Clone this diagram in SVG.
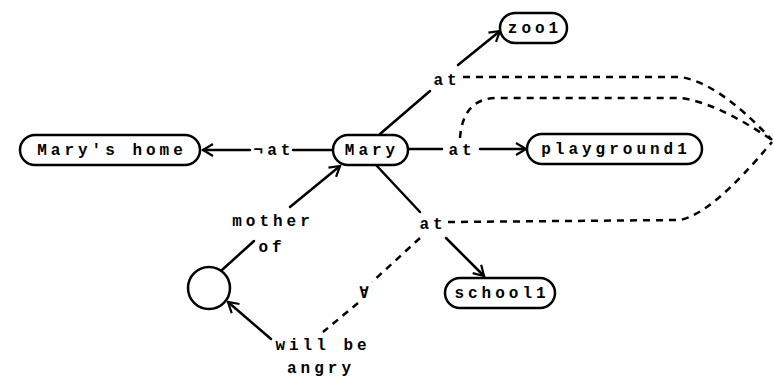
<svg xmlns="http://www.w3.org/2000/svg" width="773" height="378" viewBox="0 0 773 378">
  <style>
    .node rect, .node circle { fill: #fff; stroke: #000; stroke-width: 2.5; }
    text { font-family: "Liberation Mono", "DejaVu Sans Mono", monospace; font-weight: bold; font-size: 16px; letter-spacing: 4px; fill: #000; text-anchor: middle; }
    .edge { fill: none; stroke: #000; stroke-width: 2.5; stroke-linecap: round; }
    .dash { fill: none; stroke: #000; stroke-width: 2.5; stroke-dasharray: 7 6; }
  </style>
  <defs>
    <marker id="arrow" markerUnits="userSpaceOnUse" markerWidth="16" markerHeight="16" refX="12" refY="8" orient="auto">
      <path d="M2,2 L12,8 L2,14" fill="none" stroke="#000" stroke-width="2.2"/>
    </marker>
  </defs>

  <g id="connectors">
    <!-- Mary ¬at Mary's home -->
    <line class="edge" x1="250" y1="150" x2="203" y2="150" marker-end="url(#arrow)"/>
    <line class="edge" x1="293" y1="150" x2="333" y2="150"/>
    <text x="274" y="155">¬at</text>

    <!-- Mary at zoo1 -->
    <line class="edge" x1="380" y1="134" x2="430" y2="91"/>
    <line class="edge" x1="458" y1="65" x2="500" y2="31" marker-end="url(#arrow)"/>
    <text x="447" y="85">at</text>

    <!-- Mary at playground1 -->
    <line class="edge" x1="408" y1="149" x2="442" y2="149"/>
    <line class="edge" x1="480" y1="149" x2="526" y2="149" marker-end="url(#arrow)"/>
    <text x="462" y="155">at</text>

    <!-- Mary at school1 -->
    <line class="edge" x1="376" y1="165" x2="420" y2="212"/>
    <line class="edge" x1="446" y1="238" x2="484" y2="276" marker-end="url(#arrow)"/>
    <text x="433" y="229">at</text>

    <!-- dashed links joining the three "at" relations -->
    <path class="dash" d="M463,77 L680,77 Q718,82 772,140"/>
    <path class="dash" d="M460,138 Q463,98 497,98 L680,98 Q716,102 772,140"/>
    <path class="dash" d="M448,222 L680,220 Q712,214 772,142"/>

    <!-- ∀ over the school "at" -->
    <line class="dash" x1="420" y1="238" x2="372" y2="282"/>
    <line class="dash" x1="358" y1="303" x2="323" y2="332"/>
    <text x="366" y="298">∀</text>

    <!-- mother of -->
    <line class="edge" x1="290" y1="207" x2="340" y2="166" marker-end="url(#arrow)"/>
    <line class="edge" x1="222" y1="270" x2="254" y2="241"/>
    <text x="273" y="226">mother</text>
    <text x="272" y="252">of</text>

    <!-- will be angry -->
    <line class="edge" x1="271" y1="339" x2="228" y2="302" marker-end="url(#arrow)"/>
    <text x="323" y="350">will be</text>
    <text x="321" y="373">angry</text>
  </g>

  <g id="marys-home" class="node">
    <rect x="20" y="135" width="180" height="30" rx="15"/>
    <text x="112" y="155">Mary's home</text>
  </g>
  <g id="mary" class="node">
    <rect x="333" y="135" width="75" height="30" rx="15"/>
    <text x="372" y="155">Mary</text>
  </g>
  <g id="zoo1" class="node">
    <rect x="500" y="13" width="67" height="30" rx="15"/>
    <text x="535" y="33">zoo1</text>
  </g>
  <g id="playground1" class="node">
    <rect x="527" y="134" width="175" height="30" rx="15"/>
    <text x="616" y="154">playground1</text>
  </g>
  <g id="school1" class="node">
    <rect x="445" y="278" width="110" height="30" rx="15"/>
    <text x="502" y="298">school1</text>
  </g>
  <g id="person" class="node">
    <circle cx="209" cy="288" r="21"/>
  </g>
</svg>
